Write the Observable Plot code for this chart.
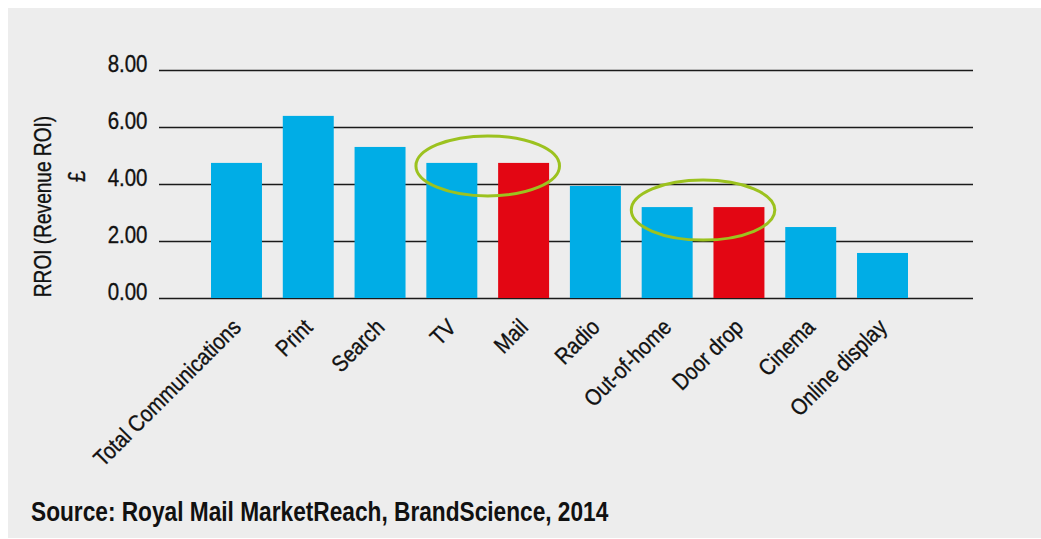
<!DOCTYPE html>
<html>
<head>
<meta charset="utf-8">
<script src="https://cdn.jsdelivr.net/npm/d3@7"></script>
<script src="https://cdn.jsdelivr.net/npm/@observablehq/plot@0.6"></script>
<style>
  body { margin: 0; background: #ffffff; }
  #wrap { position: relative; width: 1041px; height: 539px; overflow: hidden; }
  #panel { position: absolute; left: 8px; top: 8px; right: 0; bottom: 1px; background: #ededed; }
  #chart { position: absolute; left: 0; top: 0; }
  #caption { position: absolute; left: 31px; top: 499px; font: bold 27px/27px "Liberation Sans", Arial, sans-serif; color: #111; white-space: nowrap; transform: scaleX(0.84); transform-origin: 0 0; }
</style>
</head>
<body>
<div id="wrap">
  <div id="panel"></div>
  <div id="chart"></div>
  <div id="caption">Source: Royal Mail MarketReach, BrandScience, 2014</div>
</div>
<script>
const categories = ["Total Communications", "Print", "Search", "TV", "Mail", "Radio", "Out-of-home", "Door drop", "Cinema", "Online display"];
const values = [4.74, 6.39, 5.30, 4.74, 4.74, 3.93, 3.19, 3.19, 2.49, 1.58];
const highlighted = ["Mail", "Door drop"];
const yTicks = [0, 2, 4, 6, 8];
const yTickLabels = ["0.00", "2.00", "4.00", "6.00", "8.00"];
const circledPairs = [["TV", "Mail"], ["Out-of-home", "Door drop"]];
const yTitle = "RROI (Revenue ROI)";
const yUnit = "£";

const FONT = '"Liberation Sans", Arial, sans-serif';
const BLUE = "#00ade6";
const RED = "#e30613";
const GREEN = "#9cc21f";
const INK = "#111";

const rows = categories.map((c, i) => ({category: c, value: values[i], hl: highlighted.includes(c)}));
const ticks = yTicks.map((t, i) => ({t, label: yTickLabels[i]}));
const pairs = circledPairs.map(([a, b]) => ({a, b, v: rows.find(r => r.category === a).value}));

// green ellipses drawn around pairs of bars, positioned through the chart's scales
function ellipseMark(index, scales) {
  const x = scales.x, y = scales.y;
  const bw = typeof x.bandwidth === "function" ? x.bandwidth() : x.bandwidth;
  const step = typeof x.step === "function" ? x.step() : bw / 0.71;
  const g = d3.create("svg:g");
  for (const p of pairs) {
    const cx = (x(p.a) + x(p.b) + bw) / 2;
    const cy = y(p.v) + 3;
    g.append("ellipse")
      .attr("cx", cx).attr("cy", cy)
      .attr("rx", step).attr("ry", 30)
      .attr("fill", "none").attr("stroke", GREEN).attr("stroke-width", 3);
  }
  return g.node();
}

const textStyle = {fontSize: 23, fill: INK, stroke: INK, strokeWidth: 0.35};

const chart = Plot.plot({
  width: 1041,
  height: 480,
  marginLeft: 159,
  marginRight: 68,
  marginTop: 70,
  marginBottom: 182,
  style: {background: "transparent", fontFamily: FONT, color: INK, overflow: "visible"},
  x: {domain: categories, range: [200.6, 918.4], paddingInner: 0.29, paddingOuter: 0.145, round: false, axis: null},
  y: {domain: [0, 8], axis: null},
  marks: [
    Plot.ruleY(yTicks, {stroke: "#1a1a1a", strokeWidth: 1.6}),
    Plot.barY(rows, {x: "category", y: "value", fill: d => d.hl ? RED : BLUE}),
    ellipseMark,
    Plot.text(ticks, {y: "t", text: "label", frameAnchor: "left", textAnchor: "end", lineAnchor: "bottom", dx: -12, dy: 1, ...textStyle, className: "c89"}),
    Plot.text(rows, {x: "category", text: "category", frameAnchor: "bottom", rotate: -45, textAnchor: "end", lineAnchor: "middle", dy: 25, ...textStyle, className: "c87"}),
    Plot.text([yTitle], {frameAnchor: "left", rotate: -90, textAnchor: "middle", lineAnchor: "middle", dx: -116, dy: 22, ...textStyle, className: "c83"}),
    Plot.text([yUnit], {frameAnchor: "left", rotate: -90, textAnchor: "middle", lineAnchor: "middle", dx: -81.5, dy: -8, ...textStyle, className: "c87"})
  ]
});

// horizontally condense the text in its own (rotated) frame, emulating a condensed typeface
for (const [cls, k] of [["c89", 0.89], ["c87", 0.87], ["c83", 0.83]]) {
  chart.querySelectorAll(`.${cls} text`).forEach(t => {
    const tr = t.getAttribute("transform");
    if (tr) {
      t.setAttribute("transform", `${tr} scale(${k},1)`);
    } else {
      const x = +(t.getAttribute("x") || 0), y = +(t.getAttribute("y") || 0);
      t.removeAttribute("x"); t.removeAttribute("y");
      t.setAttribute("transform", `translate(${x},${y}) scale(${k},1)`);
    }
  });
}
document.getElementById("chart").appendChild(chart);
</script>
</body>
</html>
